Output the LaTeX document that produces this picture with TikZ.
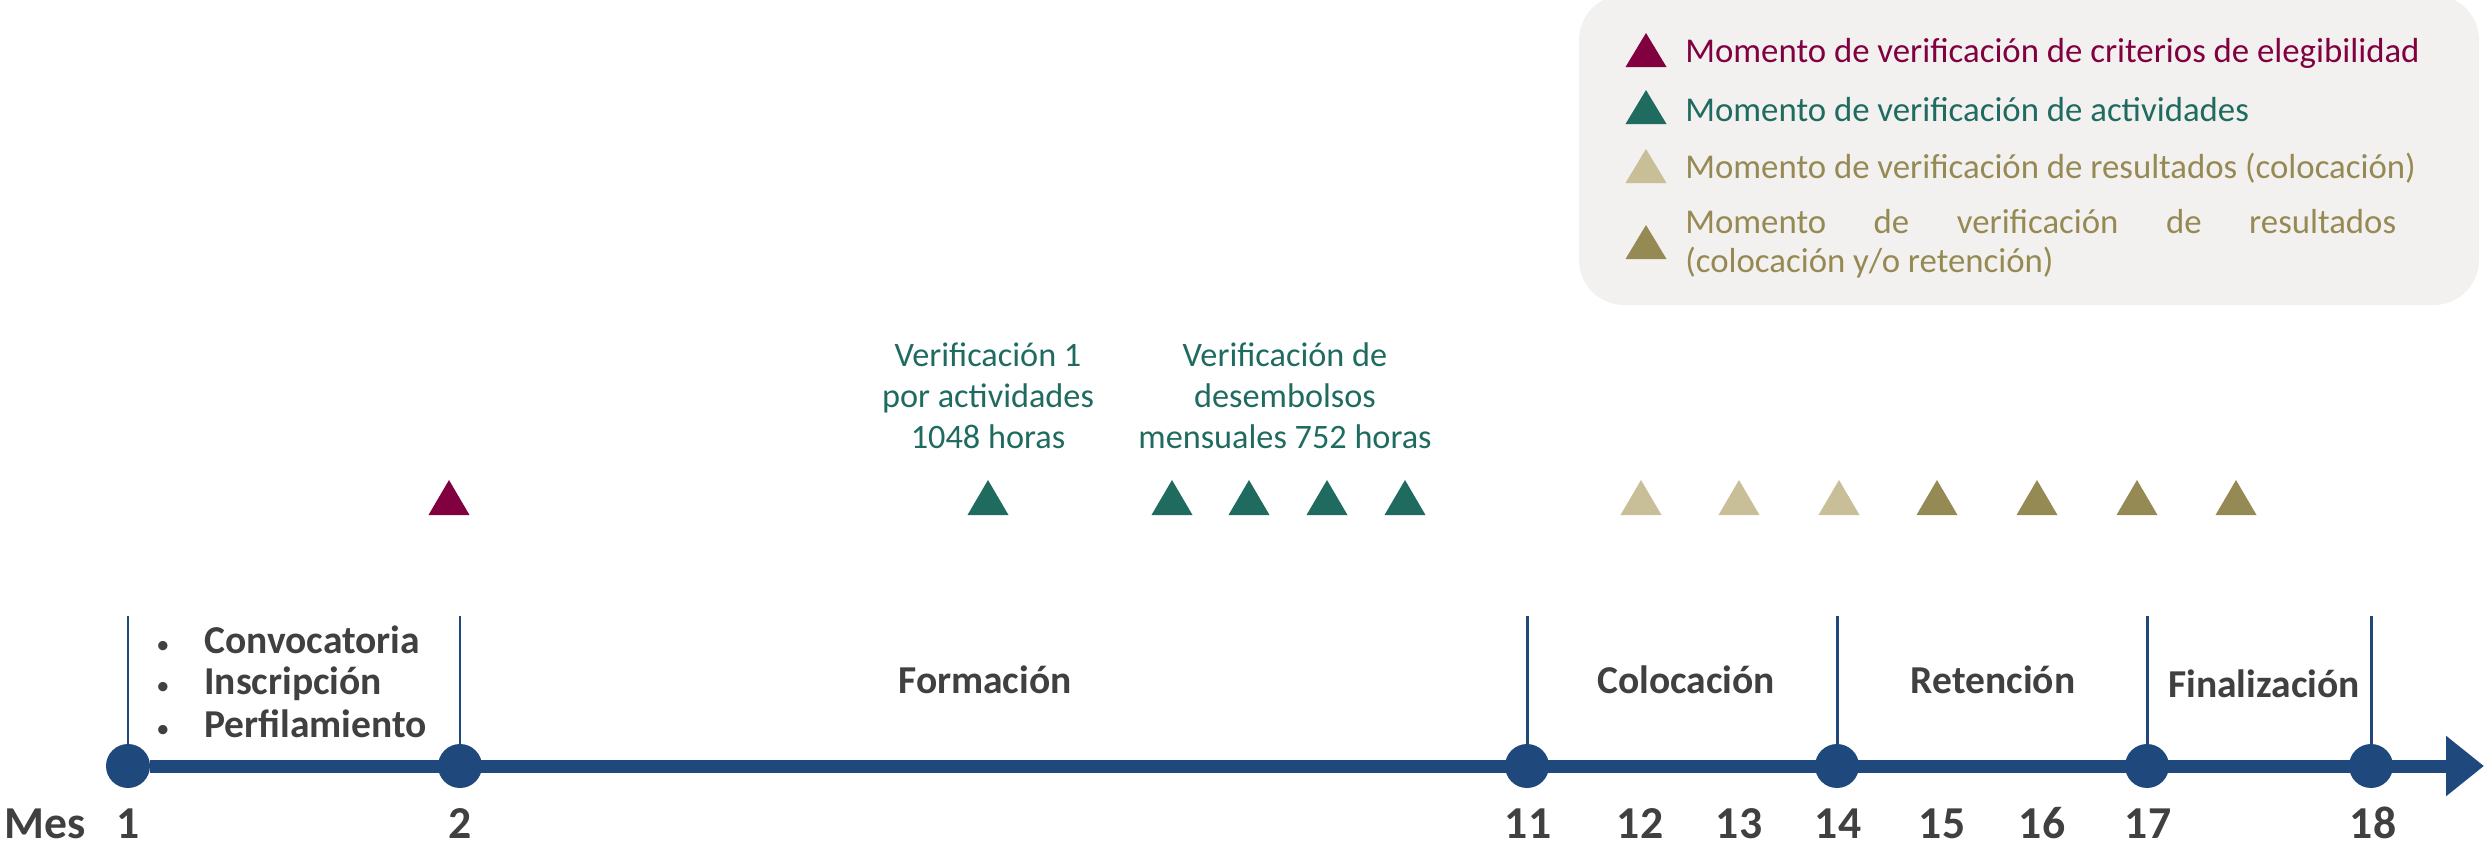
\documentclass[tikz,border=0pt]{standalone}
\usepackage{fontspec}
\setmainfont{Carlito}
\usetikzlibrary{arrows.meta}
\definecolor{azulEje}{RGB}{31,73,125}
\definecolor{guinda}{RGB}{128,0,64}
\definecolor{verde}{RGB}{31,107,96}
\definecolor{arena}{RGB}{200,191,152}
\definecolor{olivo}{RGB}{150,138,84}
\definecolor{grisTexto}{RGB}{64,64,64}
\definecolor{fondoLey}{RGB}{243,241,239}
\begin{document}
\begin{tikzpicture}[x=0.02cm, y=-0.02cm,
    hito/.style={circle, fill=azulEje, minimum size=0.88cm, inner sep=0pt},
    marca/.style={azulEje, line width=1.7pt},
    eje/.style={azulEje, line width=7.4pt, -{Triangle[length=0.76cm, width=1.16cm]}},
    fase/.style={font=\fontsize{22.5}{25}\selectfont\bfseries, text=grisTexto, anchor=base, inner sep=0pt},
    mes/.style={font=\fontsize{26}{30}\selectfont\bfseries, text=grisTexto, anchor=base, inner sep=0pt},
    nota/.style={font=\fontsize{19.5}{23.3}\selectfont, text=verde, align=center, inner sep=0pt},
    leyenda/.style={font=\fontsize{19.8}{23.3}\selectfont, anchor=base west, inner sep=0pt}]
    \useasboundingbox (0,0) rectangle (2486,845);

    \fill[fondoLey, rounded corners=0.9cm] (1579,-5) rectangle (2479,305);
    \fill[guinda] (1625.5,67) -- (1666.5,67) -- (1646,33) -- cycle;
    \fill[verde] (1625.5,124) -- (1666.5,124) -- (1646,90) -- cycle;
    \fill[arena] (1625.5,183) -- (1666.5,183) -- (1646,149) -- cycle;
    \fill[olivo] (1625.5,259) -- (1666.5,259) -- (1646,225) -- cycle;
    \node[leyenda, text=guinda] (ley1) at (1685,62) {Momento de verificación de criterios de elegibilidad};
    \node[leyenda, text=verde] (ley2) at (1685,121) {Momento de verificación de actividades};
    \node[leyenda, text=olivo] (ley3) at (1685,178) {Momento de verificación de resultados (colocación)};
    \node[leyenda, text=olivo] (ley4a) at (1685,233) {\makebox[14.22cm][s]{Momento de verificación de resultados}};
    \node[leyenda, text=olivo] (ley4b) at (1685,272) {(colocación y/o retención)};

    \node[nota] (verif1) at (988,396) {Verificación 1\\por actividades\\1048 horas};
    \node[nota] (verif2) at (1285,396) {Verificación de\\desembolsos\\mensuales 752 horas};

    \fill[guinda] (428.5,515) -- (469.5,515) -- (449,480) -- cycle;
    \foreach \x in {988,1172,1249,1327,1405}
        \fill[verde] (\x-20.5,515) -- (\x+20.5,515) -- (\x,480) -- cycle;
    \foreach \x in {1641,1739,1839}
        \fill[arena] (\x-20.5,515) -- (\x+20.5,515) -- (\x,480) -- cycle;
    \foreach \x in {1937,2037,2137,2236}
        \fill[olivo] (\x-20.5,515) -- (\x+20.5,515) -- (\x,480) -- cycle;

    \node[hito] (m1) at (128,766) {};
    \node[hito] (m2) at (460,766) {};
    \node[hito] (m11) at (1527,766) {};
    \node[hito] (m14) at (1837,766) {};
    \node[hito] (m17) at (2147,766) {};
    \node[hito] (m18) at (2371,766) {};
    \coordinate (fin) at (2484,766);
    \draw[eje] (m1) -- (fin);
    \foreach \m in {m1,m2,m11,m14,m17,m18}
        \draw[marca] (\m) -- ++(0,-150);

    \node[fase, anchor=base west] (conv) at (156,653) {\makebox[0.96cm][l]{\fontsize{15}{15}\selectfont\mdseries\textbullet}Convocatoria};
    \node[fase, anchor=base west] (insc) at (156,694) {\makebox[0.96cm][l]{\fontsize{15}{15}\selectfont\mdseries\textbullet}Inscripción};
    \node[fase, anchor=base west] (perf) at (156,737) {\makebox[0.96cm][l]{\fontsize{15}{15}\selectfont\mdseries\textbullet}Perfilamiento};
    \node[fase] (formacion) at (985,693) {Formación};
    \node[fase] (colocacion) at (1686,693) {Colocación};
    \node[fase] (retencion) at (1993,693) {Retención};
    \node[fase] (finalizacion) at (2264,697) {Finalización};

    \node[mes] (mes) at (45,838) {Mes};
    \node[mes] (n1) at (128,838) {1};
    \node[mes] (n2) at (460,838) {2};
    \node[mes] (n11) at (1528,838) {11};
    \node[mes] (n12) at (1640,838) {12};
    \node[mes] (n13) at (1739,838) {13};
    \node[mes] (n14) at (1838,838) {14};
    \node[mes] (n15) at (1942,838) {15};
    \node[mes] (n16) at (2042,838) {16};
    \node[mes] (n17) at (2148,838) {17};
    \node[mes] (n18) at (2373,838) {18};
\end{tikzpicture}
\end{document}
